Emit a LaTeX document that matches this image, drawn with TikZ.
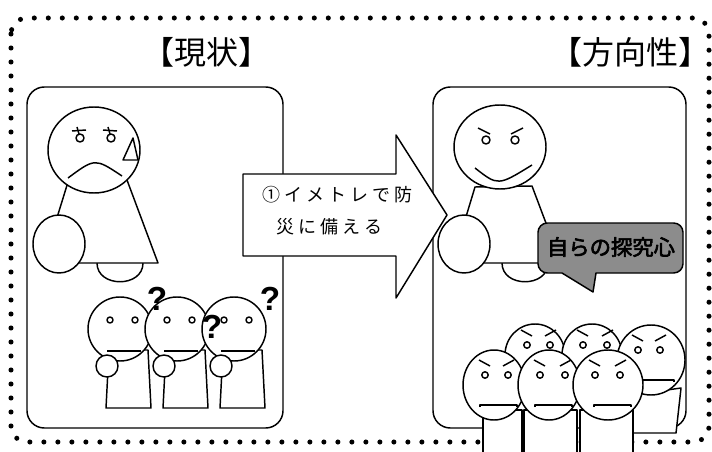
\documentclass[tikz,border=0pt]{standalone}
\usepackage{fontspec}
\setmainfont{Liberation Sans}
\newfontfamily\jp{Noto Sans CJK JP}
\newfontfamily\jpwide[LetterSpace=22]{Noto Sans CJK JP}
\newfontfamily\jpbold[FakeBold=3]{Noto Sans CJK JP}

% small puzzled character (body, head, eyes, mouth, hand) centred at x=#1
\newcommand\puzzledkid[1]{%
  \filldraw[ink] ({#1-11},350) -- ({#1-14},408) -- ({#1+31},408) -- ({#1+28},350) -- cycle;
  \filldraw[ink] (#1,329) ellipse [x radius=32, y radius=32];
  \draw ({#1-10},320) circle [radius=3];
  \draw ({#1+15},320) circle [radius=3];
  \draw ({#1-13},351) -- ({#1+21},351);
  \filldraw[ink] ({#1-13},366) circle [radius=11];
}
% frowning head: centre #1,#2, radii #3,#4, eye offsets #5,#6
\newcommand\angryhead[6]{%
  \filldraw[ink] (#1,#2) ellipse [x radius=#3, y radius=#4];
  \draw ({#1+#5-6},{#2-25}) -- ({#1+#5+5},{#2-19});
  \draw ({#1+#6+6},{#2-25}) -- ({#1+#6-5},{#2-19});
  \draw ({#1+#5},{#2-10}) circle [radius=3.2];
  \draw ({#1+#6},{#2-10}) circle [radius=3.2];
  \draw ({#1-14},{#2+22}) -- ({#1-14},{#2+20}) -- ({#1+23},{#2+20}) -- ({#1+23},{#2+22});
}

\tikzset{
  dotborder/.style={line width=3.8pt, dash pattern=on 0pt off 10.5pt, line cap=round, rounded corners=12pt},
  panelbox/.style={line width=1.1pt, rounded corners=13pt},
  ink/.style={draw=black, fill=white},
  title/.style={font=\jp\fontsize{24pt}{28pt}\selectfont, inner sep=0pt},
  arrowtext/.style={font=\jpwide\fontsize{13.5pt}{16pt}\selectfont, inner sep=0pt, anchor=west},
  qmark/.style={font=\bfseries\fontsize{25pt}{28pt}\selectfont, inner sep=0pt},
  bubbletext/.style={font=\jpbold\fontsize{16pt}{18pt}\selectfont, inner sep=0pt},
}

\begin{document}
\begin{tikzpicture}[x=0.75pt, y=-0.75pt, line width=1.1pt, line join=round]
\useasboundingbox (0,0) rectangle (712,452);
\fill[white] (0,0) rectangle (712,452);

% outer dotted frame
\draw[dotborder] (11,18) rectangle (709,442);

% headings
\node[title] (now) at (206,52) {【現状】};
\node[title] (dir) at (630,52) {【方向性】};

% the two panels
\draw[panelbox] (27,87) rectangle (283,428);
\draw[panelbox] (433,87) rectangle (686,428);

% ---- left panel: worried figure ----
\draw (97,263) .. controls (97,288) and (143,288) .. (143,263);
\filldraw[ink] (68,182) -- (127,180) -- (158,263) -- (43,263) -- cycle;
\filldraw[ink] (59,244) ellipse [x radius=26, y radius=29];
\filldraw[ink] (94,150) ellipse [x radius=46, y radius=43];
\draw (72,131) -- (86,130);
\draw (77,127) -- (79,134);
\draw (80,138) circle [radius=4];
\draw (103,130) -- (117,131);
\draw (108,127) -- (110,134);
\draw (111,138) circle [radius=4];
\draw (133,138) -- (123,160) -- (138,160) -- cycle;
\draw (68,178) .. controls (95,158) .. (122,176);

% ---- left panel: three puzzled children ----
\puzzledkid{120}
\puzzledkid{177}
\puzzledkid{234}
\node[qmark] (q1) at (157,299) {?};
\node[qmark] (q2) at (270,299) {?};
\node[qmark] (q3) at (212,327) {?};

% ---- arrow ----
\filldraw[ink] (243,174) -- (396,174) -- (396,135) -- (447,215) -- (396,298) -- (396,256) -- (243,256) -- cycle;
\node[arrowtext] (a1) at (262,195) {①イメトレで防};
\node[arrowtext] (a2) at (276,227) {災に備える};

% ---- right panel: confident figure ----
\draw (502,263) .. controls (502,288) and (548,288) .. (548,263);
\filldraw[ink] (475,187) -- (532,186) -- (561,263) -- (452,263) -- cycle;
\filldraw[ink] (464,244) ellipse [x radius=26, y radius=29];
\filldraw[ink] (500,147) ellipse [x radius=46, y radius=42];
\draw (478,128) -- (490,134);
\draw (523,128) -- (511,134);
\draw (486,140) circle [radius=4];
\draw (515,140) circle [radius=4];
\draw (475,168) .. controls (498,186) .. (532,165);

% speech bubble
\filldraw[draw=black, fill=black!45, line width=1.1pt]
  [rounded corners=7pt] (538,223) -- (683,223) -- (683,273)
  [sharp corners] -- (596,273) -- (593,292) -- (562,273)
  [rounded corners=7pt] -- (538,273) -- cycle;
\node[bubbletext] (spirit) at (611,247) {自らの探究心};

% ---- right panel: determined group ----
\angryhead{535}{355}{30}{31}{-8}{15}
\angryhead{592}{355}{30}{31}{-9}{15}
\filldraw[ink] (632,395) -- (632,433) -- (676,433) -- (681,388) -- cycle;
\angryhead{651}{360}{34}{35}{-13}{9}
\filldraw[ink] (483,410) rectangle (522,460);
\angryhead{494}{385}{31}{35}{-9}{14}
\filldraw[ink] (524,410) rectangle (577,460);
\angryhead{549}{385}{31}{35}{-9}{16}
\filldraw[ink] (580,410) rectangle (633,460);
\angryhead{608}{385}{35}{35}{-13}{12}
\end{tikzpicture}
\end{document}
